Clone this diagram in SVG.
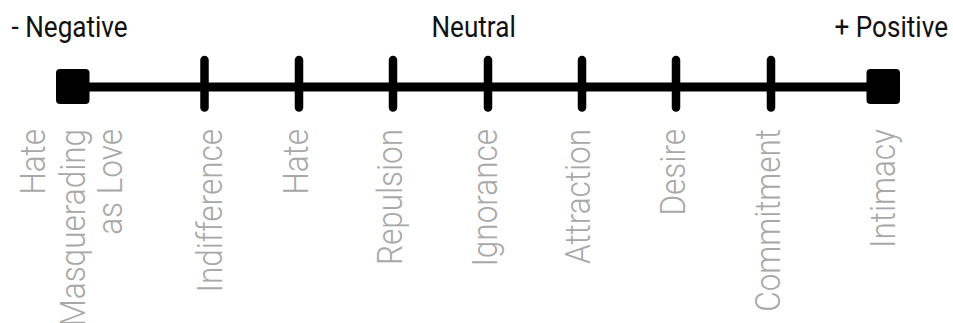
<svg xmlns="http://www.w3.org/2000/svg" width="953" height="323" viewBox="0 0 953 323">
<style>
.hdr{font-family:Roboto,"Liberation Sans",sans-serif;font-size:30px;fill:#111}
.lbl{font-family:Roboto,"Liberation Sans",sans-serif;font-size:35px;font-weight:300;fill:#a8a8a8;text-anchor:end}
.tick{stroke:#000;stroke-width:8.5;stroke-linecap:round}
.end{fill:#000}
</style>
<rect width="953" height="323" fill="#fff"/>
<g id="headers">
<text class="hdr" transform="translate(11.5,37) scale(0.87,1)">- Negative</text>
<text class="hdr" transform="translate(431.5,37) scale(0.87,1)">Neutral</text>
<text class="hdr" transform="translate(948,37) scale(0.87,1)" text-anchor="end">+ Positive</text>
</g>
<g id="connectors">
<line x1="72" y1="87" x2="883" y2="87" stroke="#000" stroke-width="9"/>
</g>
<g id="node-negative">
<rect class="end" x="56" y="69" width="33.5" height="35" rx="4"/>
<text class="lbl" transform="translate(45,129) rotate(-90) scale(0.9,1)">Hate</text>
<text class="lbl" transform="translate(85,129) rotate(-90) scale(0.9,1)">Masquerading</text>
<text class="lbl" transform="translate(122,129) rotate(-90) scale(0.9,1)">as Love</text>
</g>
<g id="node-indifference">
<line class="tick" x1="204.5" y1="60" x2="204.5" y2="107.5"/>
<text class="lbl" transform="translate(221.5,129) rotate(-90) scale(0.9,1)">Indifference</text>
</g>
<g id="node-hate">
<line class="tick" x1="299" y1="60" x2="299" y2="107.5"/>
<text class="lbl" transform="translate(308,129) rotate(-90) scale(0.9,1)">Hate</text>
</g>
<g id="node-repulsion">
<line class="tick" x1="393" y1="60" x2="393" y2="107.5"/>
<text class="lbl" transform="translate(401.5,129) rotate(-90) scale(0.9,1)">Repulsion</text>
</g>
<g id="node-ignorance">
<line class="tick" x1="488" y1="60" x2="488" y2="107.5"/>
<text class="lbl" transform="translate(497,129) rotate(-90) scale(0.9,1)">Ignorance</text>
</g>
<g id="node-attraction">
<line class="tick" x1="582" y1="60" x2="582" y2="107.5"/>
<text class="lbl" transform="translate(590,129) rotate(-90) scale(0.9,1)">Attraction</text>
</g>
<g id="node-desire">
<line class="tick" x1="676" y1="60" x2="676" y2="107.5"/>
<text class="lbl" transform="translate(685,129) rotate(-90) scale(0.9,1)">Desire</text>
</g>
<g id="node-commitment">
<line class="tick" x1="771" y1="60" x2="771" y2="107.5"/>
<text class="lbl" transform="translate(780,129) rotate(-90) scale(0.9,1)">Commitment</text>
</g>
<g id="node-positive">
<rect class="end" x="866.5" y="69" width="33.5" height="35" rx="4"/>
<text class="lbl" transform="translate(895,129) rotate(-90) scale(0.9,1)">Intimacy</text>
</g>
</svg>
